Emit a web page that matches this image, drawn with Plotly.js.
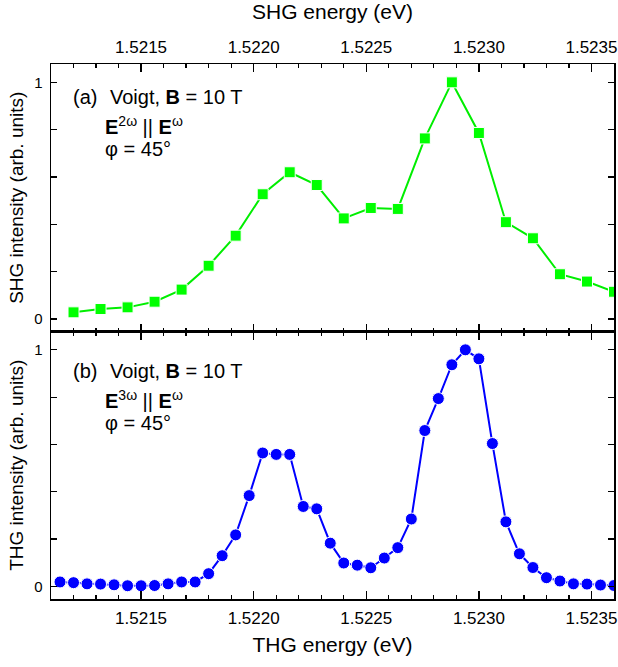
<!DOCTYPE html>
<html>
<head>
<meta charset="utf-8">
<script src="https://cdn.plot.ly/plotly-3.0.1.min.js"></script>
<style>html,body{margin:0;padding:0;background:#fff;}#chart{width:618px;height:667px;}</style>
</head>
<body>
<div id="chart"></div>
<script>
// SHG (panel a) data
const shgEnergy = [1.52120,1.52132,1.52144,1.52156,1.52168,1.52180,1.52192,1.52204,1.52216,1.52228,1.52240,1.52252,1.52264,1.52276,1.52288,1.52300,1.52312,1.52324,1.52336,1.52348,1.52360];
const shgIntensity = [0.028,0.042,0.049,0.073,0.124,0.225,0.352,0.527,0.620,0.566,0.425,0.469,0.465,0.763,1.000,0.786,0.409,0.341,0.189,0.158,0.115];

// THG (panel b) data
const thgEnergy = [1.52114,1.52120,1.52126,1.52132,1.52138,1.52144,1.52150,1.52156,1.52162,1.52168,1.52174,1.52180,1.52186,1.52192,1.52198,1.52204,1.52210,1.52216,1.52222,1.52228,1.52234,1.52240,1.52246,1.52252,1.52258,1.52264,1.52270,1.52276,1.52282,1.52288,1.52294,1.52300,1.52306,1.52312,1.52318,1.52324,1.52330,1.52336,1.52342,1.52348,1.52354,1.52360];
const thgIntensity = [0.019,0.016,0.011,0.010,0.007,0.003,0.003,0.004,0.011,0.019,0.019,0.054,0.130,0.218,0.384,0.564,0.558,0.558,0.338,0.328,0.183,0.099,0.090,0.079,0.120,0.164,0.285,0.659,0.794,0.937,1.000,0.962,0.604,0.273,0.138,0.080,0.037,0.023,0.011,0.010,0.006,0.004];

const xTickVals = [1.5215,1.5220,1.5225,1.5230,1.5235];
const xTickText = ['1.5215','1.5220','1.5225','1.5230','1.5235'];
const yTickVals = [0,0.2,0.4,0.6,0.8,1];
const yTickText = ['0','','','','','1'];

const FONT = 'Arial, "Liberation Sans", sans-serif';

const traces = [
  {
    x: shgEnergy, y: shgIntensity, xaxis: 'x2', yaxis: 'y2',
    type: 'scatter', mode: 'lines+markers',
    line: {color: '#00ee00', width: 2},
    marker: {symbol: 'square', size: 11, color: '#00ff00', line: {color: '#ffffff', width: 1}},
    showlegend: false
  },
  {
    x: thgEnergy, y: thgIntensity, xaxis: 'x', yaxis: 'y',
    type: 'scatter', mode: 'lines+markers',
    line: {color: '#0000ff', width: 2},
    marker: {symbol: 'circle', size: 12, color: '#0000ff', line: {color: '#ffffff', width: 1}},
    showlegend: false
  }
];

const xRange = [1.52110, 1.52360];
const commonX = {
  range: xRange, tickvals: xTickVals, ticktext: xTickText,
  ticks: 'inside', ticklen: 8, tickwidth: 1.3, tickcolor: '#000',
  minor: {dtick: 0.0001, tick0: 1.5215, ticks: 'inside', ticklen: 4, tickwidth: 1.3, tickcolor: '#000', showgrid: false},
  showline: true, linecolor: '#000', linewidth: 1.5, mirror: 'ticks',
  showgrid: false, zeroline: false, ticklabeloverflow: 'allow', ticklabelstandoff: 3,
  tickfont: {family: FONT, size: 17, color: '#000'}
};
const commonY = {
  range: [-0.053, 1.0775], tickvals: yTickVals, ticktext: yTickText,
  ticks: 'inside', ticklen: 6, tickwidth: 1.3, tickcolor: '#000',
  showline: true, linecolor: '#000', linewidth: 1.5, mirror: 'ticks',
  showgrid: false, zeroline: false, ticklabelstandoff: 4,
  tickfont: {family: FONT, size: 15, color: '#000'}
};

const layout = {
  width: 618, height: 667,
  margin: {l: 50.7, r: 4, t: 64.3, b: 67.7},
  paper_bgcolor: '#fff', plot_bgcolor: '#fff',
  font: {family: FONT, color: '#000'},
  xaxis: Object.assign({}, commonX, {
    anchor: 'y', side: 'bottom',
    title: {text: 'THG energy (eV)', font: {family: FONT, size: 21, color: '#000'}, standoff: 10}
  }),
  xaxis2: Object.assign({}, commonX, {
    anchor: 'y2', side: 'top', matches: 'x',
    title: {text: 'SHG energy (eV)', font: {family: FONT, size: 21, color: '#000'}, standoff: 12}
  }),
  yaxis: Object.assign({}, commonY, {
    domain: [0, 0.5], anchor: 'x',
    title: {text: 'THG intensity (arb. units)', font: {family: FONT, size: 19, color: '#000'}, standoff: 5}
  }),
  yaxis2: Object.assign({}, commonY, {
    domain: [0.5, 1], anchor: 'x2',
    title: {text: 'SHG intensity (arb. units)', font: {family: FONT, size: 19, color: '#000'}, standoff: 5}
  }),
  annotations: [
    {text: '(a)', x: 0.0348, y: 0.9385},
    {text: 'Voigt, <b>B</b> = 10 T', x: 0.1015, y: 0.9385},
    {text: '<b>E</b><sup>2ω</sup> || <b>E</b><sup>ω</sup>', x: 0.0925, y: 0.8854},
    {text: 'φ = 45°', x: 0.0925, y: 0.8405},
    {text: '(b)', x: 0.0348, y: 0.4263},
    {text: 'Voigt, <b>B</b> = 10 T', x: 0.1015, y: 0.4263},
    {text: '<b>E</b><sup>3ω</sup> || <b>E</b><sup>ω</sup>', x: 0.0925, y: 0.3733},
    {text: 'φ = 45°', x: 0.0925, y: 0.3284}
  ].map(a => Object.assign({xref: 'paper', yref: 'paper', xanchor: 'left', yanchor: 'middle', showarrow: false,
    font: {family: FONT, size: 20, color: '#000'}}, a))
};

Plotly.newPlot('chart', traces, layout, {displayModeBar: false, staticPlot: true});
</script>
</body>
</html>
